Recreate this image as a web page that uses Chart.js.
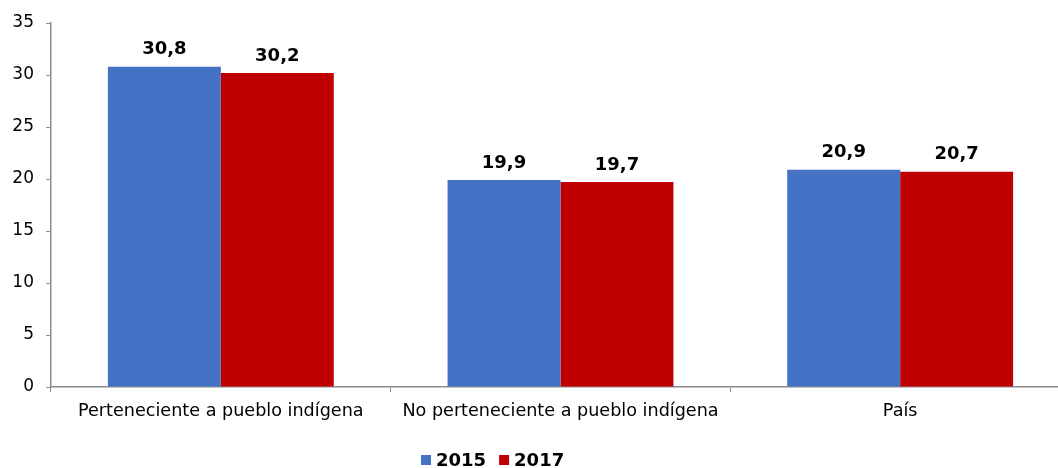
<!DOCTYPE html>
<html>
<head>
<meta charset="utf-8">
<script src="https://cdn.jsdelivr.net/npm/chart.js@4/dist/chart.umd.min.js"></script>
<style>
    body { margin: 0; overflow: hidden; background: #fff; }
    #wrap { width: 1070px; height: 468px; }
</style>
</head>
<body>
<div id="wrap"><canvas id="chart" width="1070" height="468"></canvas></div>
<script>
let categories = ["Perteneciente a pueblo indígena", "No perteneciente a pueblo indígena", "País"];
let years = ["2015", "2017"];
let values2015 = [30.8, 19.9, 20.9];
let values2017 = [30.2, 19.7, 20.7];
let yTicks = [0, 5, 10, 15, 20, 25, 30, 35];

let colors = ["#4472C4", "#C00000"];
let font = "DejaVu Sans";
let axisColor = "#8c8c8c";

function fmt(v) {
    return v.toFixed(1).replace(".", ",");
}

// numbers above each bar
let valueLabels = {
    id: "valueLabels",
    afterDatasetsDraw(chart) {
        let ctx = chart.ctx;
        ctx.save();
        ctx.font = "bold 18px '" + font + "'";
        ctx.fillStyle = "#000";
        ctx.textAlign = "center";
        ctx.textBaseline = "middle";
        chart.data.datasets.forEach((ds, i) => {
            chart.getDatasetMeta(i).data.forEach((bar, j) => {
                ctx.fillText(fmt(ds.data[j]), bar.x, bar.y - 17);
            });
        });
        ctx.restore();
    }
};

// legend under the axis labels
let bottomLegend = {
    id: "bottomLegend",
    afterDraw(chart) {
        let ctx = chart.ctx;
        ctx.save();
        ctx.font = "bold 18px '" + font + "'";
        ctx.textBaseline = "middle";
        let y = 460;
        let x = 421;
        chart.data.datasets.forEach(ds => {
            ctx.fillStyle = ds.backgroundColor;
            ctx.fillRect(x, y - 5, 10, 10);
            ctx.fillStyle = "#000";
            ctx.fillText(ds.label, x + 15, y + 1);
            x += 15 + ctx.measureText(ds.label).width + 13;
        });
        ctx.restore();
    }
};

new Chart(document.getElementById("chart"), {
    type: "bar",
    data: {
        labels: categories,
        datasets: [
            { label: years[0], data: values2015, backgroundColor: colors[0] },
            { label: years[1], data: values2017, backgroundColor: colors[1] }
        ]
    },
    options: {
        responsive: false,
        animation: false,
        layout: { padding: { top: 23, bottom: 41, right: 0, left: 0 } },
        datasets: { bar: { categoryPercentage: 0.665, barPercentage: 1 } },
        plugins: {
            legend: { display: false },
            tooltip: { enabled: false }
        },
        scales: {
            x: {
                afterFit: s => { s.height = 40; },
                grid: { offset: true, drawOnChartArea: false, tickLength: 5, color: axisColor },
                border: { color: axisColor, width: 1.5 },
                ticks: { color: "#000", padding: 9, font: { family: font, size: 17.6 } }
            },
            y: {
                min: 0,
                max: 35,
                afterFit: s => { s.width = 51; },
                afterBuildTicks: s => { s.ticks = yTicks.map(v => ({ value: v })); },
                grid: { drawOnChartArea: false, tickLength: 5, color: axisColor },
                border: { color: axisColor, width: 1.5 },
                ticks: { color: "#000", padding: 12, font: { family: font, size: 17 } }
            }
        }
    },
    plugins: [valueLabels, bottomLegend]
});
</script>
</body>
</html>
